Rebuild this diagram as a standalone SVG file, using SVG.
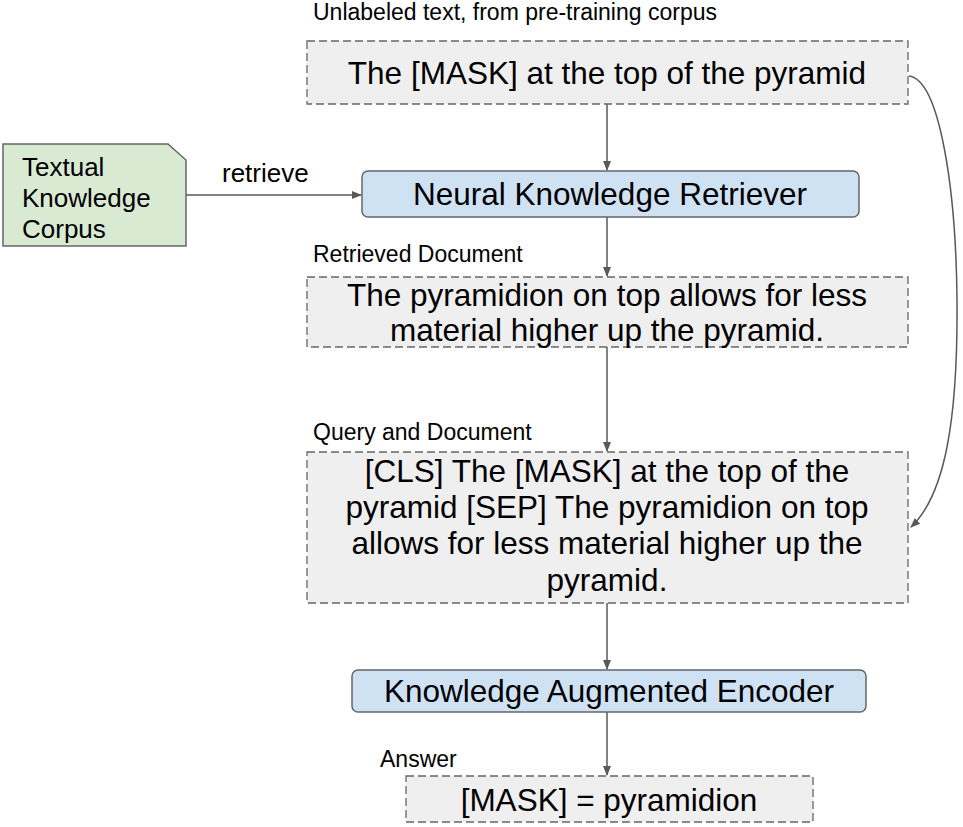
<svg xmlns="http://www.w3.org/2000/svg" width="963" height="827" viewBox="0 0 963 827">
  <defs>
    <marker id="arrow" viewBox="0 0 10 10" refX="9" refY="5" markerWidth="10" markerHeight="10" markerUnits="userSpaceOnUse" orient="auto">
      <path d="M0,1 L10,5 L0,9 Z" fill="#595959"/>
    </marker>
    <style>
      .txt { font-family: "Liberation Sans", Arial, sans-serif; fill: #000; }
      .big { font-size: 31.5px; }
      .lbl { font-size: 23px; }
      .side { font-size: 26px; }
      .dash { fill: #efefef; stroke: #666; stroke-width: 1.3; stroke-dasharray: 8 4; }
      .proc { fill: #cfe2f3; stroke: #666; stroke-width: 1.5; }
      .conn { fill: none; stroke: #595959; stroke-width: 1.5; marker-end: url(#arrow); }
    </style>
  </defs>
  <rect width="963" height="827" fill="#fff"/>

  <g id="connectors">
    <line class="conn" x1="607" y1="104" x2="607" y2="170"/>
    <line class="conn" x1="186" y1="195" x2="361" y2="195"/>
    <line class="conn" x1="607" y1="217" x2="607" y2="276"/>
    <line class="conn" x1="607" y1="347" x2="607" y2="451"/>
    <line class="conn" x1="607" y1="603" x2="607" y2="669"/>
    <line class="conn" x1="607" y1="712" x2="607" y2="775"/>
    <path class="conn" d="M909,76 C940,80 956,190 957,300 C958,420 945,495 911,527"/>
  </g>

  <g id="corpus">
    <polygon points="3,144 168,144 186,160 186,246 3,246" fill="#d9ead3" stroke="#666" stroke-width="1.5"/>
    <text class="txt side" x="22" y="176">Textual</text>
    <text class="txt side" x="22" y="207">Knowledge</text>
    <text class="txt side" x="22" y="238">Corpus</text>
  </g>
  <text class="txt side" x="222" y="182">retrieve</text>

  <g id="query">
    <text class="txt lbl" x="313" y="20">Unlabeled text, from pre-training corpus</text>
    <rect class="dash" x="307" y="41" width="601" height="63"/>
    <text class="txt big" x="607" y="84" text-anchor="middle">The [MASK] at the top of the pyramid</text>
  </g>

  <g id="retriever">
    <rect class="proc" x="362" y="171" width="497" height="46" rx="6"/>
    <text class="txt big" x="610" y="205" text-anchor="middle">Neural Knowledge Retriever</text>
  </g>

  <g id="retrieved-doc">
    <text class="txt lbl" x="313" y="262">Retrieved Document</text>
    <rect class="dash" x="307" y="277" width="601" height="70"/>
    <text class="txt big" x="607" y="306" text-anchor="middle">The pyramidion on top allows for less</text>
    <text class="txt big" x="607" y="341" text-anchor="middle">material higher up the pyramid.</text>
  </g>

  <g id="query-doc">
    <text class="txt lbl" x="313" y="440">Query and Document</text>
    <rect class="dash" x="307" y="452" width="601" height="151"/>
    <text class="txt big" x="607" y="482" text-anchor="middle">[CLS] The [MASK] at the top of the</text>
    <text class="txt big" x="607" y="518" text-anchor="middle">pyramid [SEP] The pyramidion on top</text>
    <text class="txt big" x="607" y="554" text-anchor="middle">allows for less material higher up the</text>
    <text class="txt big" x="607" y="591" text-anchor="middle">pyramid.</text>
  </g>

  <g id="encoder">
    <rect class="proc" x="352" y="670" width="514" height="42" rx="6"/>
    <text class="txt big" x="609" y="702" text-anchor="middle">Knowledge Augmented Encoder</text>
  </g>

  <g id="answer">
    <text class="txt lbl" x="380" y="767">Answer</text>
    <rect class="dash" x="406" y="776" width="407" height="46"/>
    <text class="txt big" x="609" y="811" text-anchor="middle">[MASK] = pyramidion</text>
  </g>
</svg>
